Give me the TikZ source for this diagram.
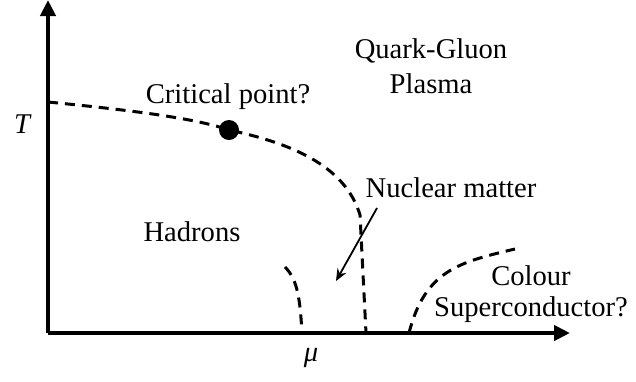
\documentclass[tikz,border=0pt]{standalone}
\usepackage{fontspec}
\setmainfont{Liberation Serif}
\usetikzlibrary{arrows.meta}

\tikzset{
  axis/.style={line width=2pt, -{Triangle[length=8pt,width=7.5pt]}},
  phaseline/.style={line width=1.5pt, dash pattern=on 5pt off 3.5pt},
  lbl/.style={font=\fontsize{14.3}{17.5}\selectfont, align=center, inner sep=1pt}
}

\begin{document}
\begin{tikzpicture}[x=0.5pt, y=-0.5pt]
    \useasboundingbox (0,0) rectangle (636,381);
    % axes
    \coordinate (origin) at (48,333);
    \coordinate (ttop) at (48,0);
    \coordinate (mright) at (570,333);
    \draw[axis] (origin) -- (ttop);
    \draw[axis] (origin) -- (mright);
    \node[lbl] (tlabel) at (23,124) {\textit{T}};
    \node[lbl] (mulabel) at (311,358) {\textit{μ}};
    % phase boundaries
    \coordinate (tcross) at (48,102);
    \node[circle, fill=black, inner sep=0pt, minimum size=10pt] (crit) at (229,130) {};
    \draw[phaseline] (tcross) .. controls (150,112) and (200,120) .. (crit.center)
      .. controls (290,143) and (345,165) .. (360,215) -- (366,333);
    \draw[phaseline] (285,267) .. controls (298,280) and (300,300) .. (302,333);
    \draw[phaseline] (409,333) .. controls (425,270) and (460,262) .. (515,249);
    % labels
    \node[lbl] (qgp) at (431,66) {Quark-Gluon\\Plasma};
    \node[lbl] (critlabel) at (228,97) {Critical point?};
    \node[lbl] (nuclear) at (451,188) {Nuclear matter};
    \node[lbl] (hadrons) at (192,232) {Hadrons};
    \node[lbl, font=\fontsize{14.3}{15.5}\selectfont] (csc) at (531,294) {Colour\\Superconductor?};
    \coordinate (nucleartip) at (336,281);
    \draw[line width=0.9pt, -{Stealth[length=6pt,width=5pt]}] (377,208) -- (nucleartip);
\end{tikzpicture}
\end{document}
